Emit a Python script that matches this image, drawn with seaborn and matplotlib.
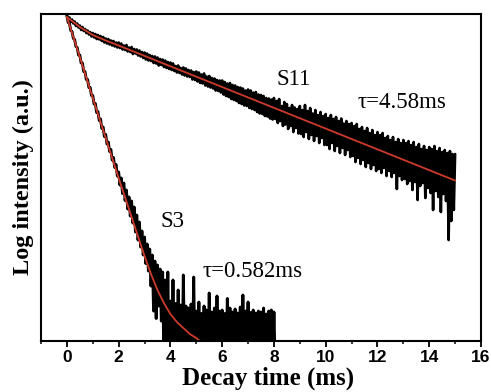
import numpy as np
import pandas as pd
import matplotlib
matplotlib.use("Agg")
import matplotlib.pyplot as plt
import seaborn as sns
from matplotlib.ticker import MultipleLocator

# ---------------- data (ln intensity, arbitrary offset) ----------------
s11_step = 0.05   # ms sampling of S11 trace
s11_counts = [
    6.51, 6.43, 6.47, 6.38, 6.43, 6.35, 6.39, 6.30, 6.35, 6.27, 6.31, 6.22, 6.28, 6.20, 6.24, 6.16, 6.21, 6.13, 6.18, 6.09,
    6.16, 6.07, 6.14, 6.04, 6.12, 6.03, 6.10, 6.00, 6.08, 5.97, 6.05, 5.95, 6.04, 5.93, 6.01, 5.91, 6.00, 5.89, 5.97, 5.87,
    5.97, 5.86, 5.95, 5.83, 5.91, 5.82, 5.92, 5.79, 5.87, 5.78, 5.88, 5.74, 5.84, 5.75, 5.83, 5.71, 5.81, 5.69, 5.78, 5.66,
    5.77, 5.63, 5.75, 5.61, 5.72, 5.60, 5.70, 5.56, 5.69, 5.55, 5.67, 5.51, 5.64, 5.52, 5.63, 5.48, 5.61, 5.46, 5.58, 5.44,
    5.57, 5.42, 5.55, 5.40, 5.50, 5.37, 5.51, 5.36, 5.46, 5.33, 5.47, 5.31, 5.45, 5.29, 5.42, 5.28, 5.41, 5.23, 5.38, 5.22,
    5.39, 5.19, 5.37, 5.16, 5.33, 5.15, 5.35, 5.11, 5.29, 5.09, 5.30, 5.07, 5.26, 5.05, 5.25, 5.01, 5.22, 5.00, 5.21, 4.97,
    5.21, 4.93, 5.18, 4.90, 5.15, 4.88, 5.16, 4.84, 5.12, 4.82, 5.11, 4.80, 5.08, 4.76, 5.07, 4.74, 5.05, 4.71, 5.01, 4.70,
    5.03, 4.66, 5.01, 4.64, 4.97, 4.62, 4.98, 4.58, 4.93, 4.55, 4.92, 4.54, 4.90, 4.50, 4.86, 4.49, 4.85, 4.45, 4.83, 4.43,
    4.86, 4.44, 4.80, 4.36, 4.84, 4.40, 4.70, 4.30, 4.78, 4.33, 4.74, 4.24, 4.66, 4.30, 4.72, 4.18, 4.67, 4.26, 4.64, 4.15,
    4.70, 4.14, 4.62, 4.08, 4.72, 4.18, 4.60, 4.04, 4.66, 4.12, 4.55, 4.00, 4.62, 4.10, 4.52, 3.96, 4.58, 4.06, 4.50, 3.92,
    4.54, 3.92, 4.46, 3.84, 4.52, 3.96, 4.44, 3.80, 4.48, 3.90, 4.40, 3.76, 4.45, 3.86, 4.35, 3.72, 4.40, 3.82, 4.34, 3.68,
    4.36, 3.70, 4.30, 3.58, 4.34, 3.66, 4.24, 3.54, 4.28, 3.62, 4.20, 3.48, 4.26, 3.56, 4.16, 3.44, 4.22, 3.52, 4.12, 3.40,
    4.18, 3.44, 4.12, 3.36, 4.16, 3.46, 4.06, 3.30, 4.10, 3.40, 4.02, 3.28, 4.08, 3.36, 3.98, 3.04, 4.04, 3.30, 3.96, 3.22,
    4.02, 3.24, 3.96, 3.14, 4.00, 3.20, 3.92, 3.02, 3.98, 3.18, 3.88, 2.82, 3.94, 3.10, 3.84, 3.16, 3.90, 2.86, 3.82, 3.06,
    3.88, 2.96, 3.84, 2.62, 3.90, 3.00, 3.80, 2.88, 3.86, 2.58, 3.78, 2.94, 3.82, 2.80, 3.76, 2.02, 3.80, 2.40, 3.74, 2.62,
    3.74,
]
s3_step = 0.05   # ms sampling of S3 trace
s3_counts = [
    6.51, 6.37, 6.35, 6.21, 6.19, 6.05, 6.03, 5.89, 5.87, 5.72,
    5.72, 5.56, 5.56, 5.39, 5.39, 5.23, 5.23, 5.07, 5.07, 4.91,
    4.91, 4.74, 4.75, 4.57, 4.59, 4.41, 4.44, 4.25, 4.28, 4.09,
    4.13, 3.94, 3.98, 3.79, 3.83, 3.62, 3.67, 3.47, 3.53, 3.30,
    3.38, 3.12, 3.26, 2.95, 3.16, 2.81, 3.02, 2.64, 2.88, 2.50,
    2.80, 2.36, 2.68, 2.18, 2.52, 2.02, 2.38, 1.88, 2.20, 1.72,
    2.08, 1.55, 1.94, 1.40, 1.84, 1.10, 1.72, 0.60, 1.60, 0.45,
    1.52, 0.70, 1.44, 0.40, 1.38, -0.50, 1.22, -0.50, 1.38, -0.50,
    0.80, -0.50, 1.22, -0.50, 0.75, -0.50, 1.02, -0.50, 0.72, -0.50,
    1.32, -0.50, 0.70, -0.50, 0.66, -0.50, 0.74, -0.50, 1.28, -0.50,
    0.60, -0.50, 0.78, -0.50, 0.55, -0.50, 0.70, -0.50, 0.62, -0.50,
    0.96, -0.50, 0.58, -0.50, 0.66, -0.50, 0.90, -0.50, 0.60, -0.50,
    0.62, -0.50, 0.55, -0.50, 0.85, -0.50, 0.66, -0.50, 0.58, -0.50,
    0.64, -0.50, 0.56, -0.50, 0.68, -0.50, 0.92, -0.50, 0.60, -0.50,
    0.78, -0.50, 0.57, -0.50, 0.62, -0.50, 0.56, -0.50, 0.60, -0.50,
    0.58, -0.50, 0.66, -0.50, 0.54, -0.50, 0.60, -0.50, 0.62, -0.50,
    0.58, -0.50,
]
# fitted single-exponential curves
s11_fit_t = [0.0, 0.5, 1.0, 1.5, 2.0, 15.0]
s11_fit_y = [6.48, 6.28, 6.12, 6.01, 5.91, 3.21]
s3_fit_t = [0.0, 0.5, 1.0, 1.5, 2.0, 2.5, 3.0, 3.25, 3.5, 3.75, 4.0, 4.25,
            4.5, 4.75, 5.0, 5.15]
s3_fit_y = [6.48, 5.68, 4.86, 4.06, 3.26, 2.48, 1.70, 1.34, 1.02, 0.76, 0.54,
            0.38, 0.26, 0.14, 0.06, 0.0]

x_ticks = [0, 2, 4, 6, 8, 10, 12, 14, 16]
labels = {"S11": (8.08, 5.24), "τ=4.58ms": (11.25, 4.77),
          "S3": (3.63, 2.40), "τ=0.582ms": (5.26, 1.40)}

# ---------------- figure ----------------
sns.set_theme(style="white")
plt.rcParams["font.family"] = ["Liberation Serif", "DejaVu Serif"]
plt.rcParams["text.color"] = "black"
plt.rcParams["axes.labelcolor"] = "black"
plt.rcParams["xtick.color"] = "black"
plt.rcParams["ytick.color"] = "black"

fig = plt.figure(figsize=(4.91, 3.92), dpi=100)
ax = fig.add_axes([0.0835, 0.130, 0.8961, 0.8343])

t11 = np.arange(len(s11_counts)) * s11_step
t3 = np.arange(len(s3_counts)) * s3_step
df11 = pd.DataFrame({"t": t11, "y": s11_counts})
df3 = pd.DataFrame({"t": t3, "y": s3_counts})

sns.lineplot(data=df11, x="t", y="y", estimator=None, sort=False,
             color="black", lw=1.9, ax=ax)
sns.lineplot(data=df3, x="t", y="y", estimator=None, sort=False,
             color="black", lw=2.1, ax=ax)
sns.lineplot(x=s11_fit_t, y=s11_fit_y, estimator=None, sort=False,
             color="#cc3b2b", lw=1.3, ax=ax)
sns.lineplot(x=s3_fit_t, y=s3_fit_y, estimator=None, sort=False,
             color="#cc3b2b", lw=1.3, ax=ax)

ax.set_xlim(-1, 16)
ax.set_ylim(0, 6.54)
ax.set_xticks(x_ticks)
ax.set_xticklabels([str(v) for v in x_ticks], fontfamily="Liberation Sans",
                   fontweight="bold", fontsize=12.5, color="black")
ax.xaxis.set_minor_locator(MultipleLocator(1))
ax.set_yticks([])
ax.tick_params(axis="x", which="major", direction="out", length=4, width=1.3,
               color="black", pad=2.5, bottom=True)
ax.tick_params(axis="x", which="minor", direction="out", length=2.5, width=1.1,
               color="black", bottom=True)
for sp in ax.spines.values():
    sp.set_color("black")
    sp.set_linewidth(1.5)

ax.set_xlabel("Decay time (ms)", fontsize=18, fontweight="bold", color="black")
ax.xaxis.set_label_coords(0.516, -0.134, transform=ax.transAxes)
ax.xaxis.label.set_va("baseline")
ax.set_ylabel("Log intensity (a.u.)", fontsize=17.5, fontweight="bold",
              color="black", labelpad=5)

for txt, (x, y) in labels.items():
    ax.text(x, y, txt, fontsize=16.5, ha="left", va="center", color="black")

fig.savefig("out.png", dpi=100, facecolor="white")
